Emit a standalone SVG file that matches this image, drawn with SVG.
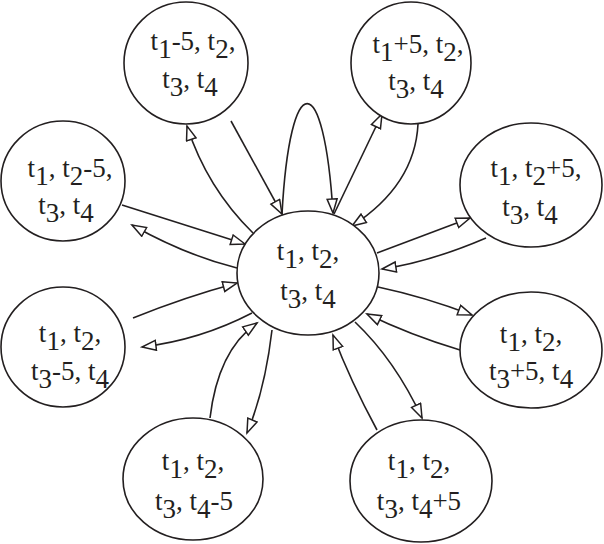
<svg xmlns="http://www.w3.org/2000/svg" width="604" height="544" viewBox="0 0 604 544">
<style>
.n{fill:#fff;stroke:#231f20;stroke-width:1.6}
.e{fill:none;stroke:#231f20;stroke-width:1.6;marker-end:url(#ah)}
text{font-family:"Liberation Serif","Times New Roman",serif;font-size:27px;fill:#231f20;text-anchor:middle}
</style>
<defs>
<marker id="ah" markerUnits="userSpaceOnUse" markerWidth="18" markerHeight="14" refX="15" refY="6" orient="auto">
<path d="M1,1 L15,6 L1,11 Z" fill="#fff" stroke="#231f20" stroke-width="1.5"/>
</marker>
</defs>
<g id="edges">
<path class="e" d="M231,121 L282,214"/>
<path class="e" d="M253,233 Q207,188 187,126"/>
<path class="e" d="M282,214 C290,67 324,67 333,213"/>
<path class="e" d="M334,214 L382,114"/>
<path class="e" d="M418,124 Q415,185 352,226"/>
<path class="e" d="M122,205 L245,244"/>
<path class="e" d="M237,268 Q185,255 132,225"/>
<path class="e" d="M133,318 Q185,297 237,283"/>
<path class="e" d="M252,313 Q200,340 142,347"/>
<path class="e" d="M210,418 Q218,350 257,323"/>
<path class="e" d="M272,330 Q265,390 247,433"/>
<path class="e" d="M355,322 Q395,360 422,418"/>
<path class="e" d="M377,430 Q350,380 333,335"/>
<path class="e" d="M378,287 Q425,297 472,315"/>
<path class="e" d="M460,350 Q410,335 367,314"/>
<path class="e" d="M377,253 L470,218"/>
<path class="e" d="M486,238 Q430,262 382,269"/>
</g>
<g id="center">
<ellipse class="n" cx="308" cy="273" rx="71" ry="62"/>
<text x="308" y="260">t<tspan dy="8">1</tspan><tspan dy="-8">, t</tspan><tspan dy="8">2</tspan><tspan dy="-8">,</tspan></text>
<text x="308" y="300">t<tspan dy="8">3</tspan><tspan dy="-8">, t</tspan><tspan dy="8">4</tspan></text>
</g>
<g id="n_t1m5">
<ellipse class="n" cx="186" cy="63" rx="62" ry="61"/>
<text x="193" y="50">t<tspan dy="8">1</tspan><tspan dy="-8">-5, t</tspan><tspan dy="8">2</tspan><tspan dy="-8">,</tspan></text>
<text x="190" y="88">t<tspan dy="8">3</tspan><tspan dy="-8">, t</tspan><tspan dy="8">4</tspan></text>
</g>
<g id="n_t1p5">
<ellipse class="n" cx="411" cy="63" rx="60" ry="61"/>
<text x="418" y="53">t<tspan dy="8">1</tspan><tspan dy="-8">+5, t</tspan><tspan dy="8">2</tspan><tspan dy="-8">,</tspan></text>
<text x="416" y="90">t<tspan dy="8">3</tspan><tspan dy="-8">, t</tspan><tspan dy="8">4</tspan></text>
</g>
<g id="n_t2m5">
<ellipse class="n" cx="63" cy="181" rx="62" ry="60"/>
<text x="70" y="177">t<tspan dy="8">1</tspan><tspan dy="-8">, t</tspan><tspan dy="8">2</tspan><tspan dy="-8">-5,</tspan></text>
<text x="66" y="214">t<tspan dy="8">3</tspan><tspan dy="-8">, t</tspan><tspan dy="8">4</tspan></text>
</g>
<g id="n_t2p5">
<ellipse class="n" cx="531" cy="185" rx="71" ry="62"/>
<text x="536" y="177">t<tspan dy="8">1</tspan><tspan dy="-8">, t</tspan><tspan dy="8">2</tspan><tspan dy="-8">+5,</tspan></text>
<text x="530" y="216">t<tspan dy="8">3</tspan><tspan dy="-8">, t</tspan><tspan dy="8">4</tspan></text>
</g>
<g id="n_t3m5">
<ellipse class="n" cx="63" cy="347" rx="62" ry="60"/>
<text x="70" y="342">t<tspan dy="8">1</tspan><tspan dy="-8">, t</tspan><tspan dy="8">2</tspan><tspan dy="-8">,</tspan></text>
<text x="70" y="380">t<tspan dy="8">3</tspan><tspan dy="-8">-5, t</tspan><tspan dy="8">4</tspan></text>
</g>
<g id="n_t3p5">
<ellipse class="n" cx="531" cy="350" rx="71" ry="58"/>
<text x="531" y="343">t<tspan dy="8">1</tspan><tspan dy="-8">, t</tspan><tspan dy="8">2</tspan><tspan dy="-8">,</tspan></text>
<text x="531" y="380">t<tspan dy="8">3</tspan><tspan dy="-8">+5, t</tspan><tspan dy="8">4</tspan></text>
</g>
<g id="n_t4m5">
<ellipse class="n" cx="193" cy="479" rx="70" ry="61"/>
<text x="193" y="470">t<tspan dy="8">1</tspan><tspan dy="-8">, t</tspan><tspan dy="8">2</tspan><tspan dy="-8">,</tspan></text>
<text x="194" y="510">t<tspan dy="8">3</tspan><tspan dy="-8">, t</tspan><tspan dy="8">4</tspan><tspan dy="-8">-5</tspan></text>
</g>
<g id="n_t4p5">
<ellipse class="n" cx="421" cy="481" rx="71" ry="61"/>
<text x="419" y="470">t<tspan dy="8">1</tspan><tspan dy="-8">, t</tspan><tspan dy="8">2</tspan><tspan dy="-8">,</tspan></text>
<text x="419" y="510">t<tspan dy="8">3</tspan><tspan dy="-8">, t</tspan><tspan dy="8">4</tspan><tspan dy="-8">+5</tspan></text>
</g>
</svg>
